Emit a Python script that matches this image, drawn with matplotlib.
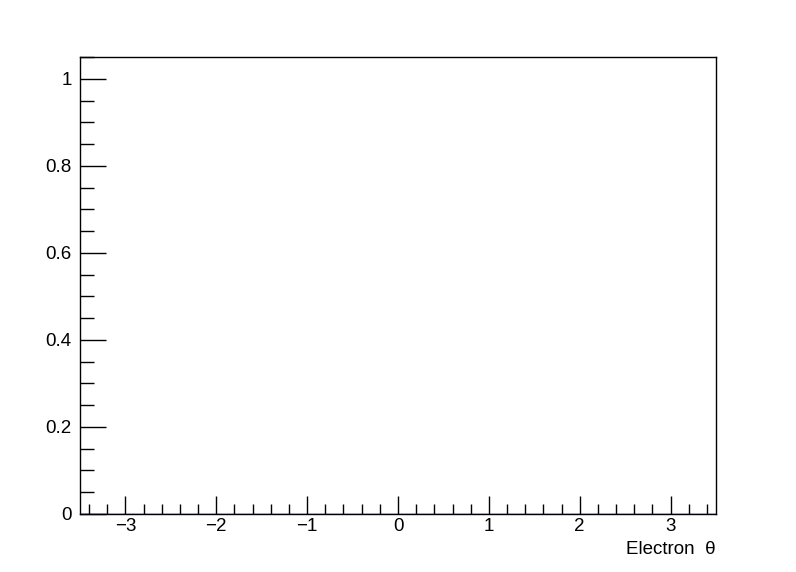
import numpy as np
import matplotlib.pyplot as plt
from matplotlib.ticker import MultipleLocator

plt.rcParams['font.family'] = ['Liberation Sans', 'DejaVu Sans']

# empty histogram: electron theta, no entries
bin_edges = np.linspace(-3.5, 3.5, 71)
counts = np.zeros(70)
x_range = (-3.5, 3.5)
y_range = (0, 1.05)
x_label = 'Electron  θ'

fig = plt.figure(figsize=(7.96, 5.72), dpi=100)
ax = fig.add_axes([80 / 796, 1 - 514 / 572, 636 / 796, 457 / 572])

ax.stairs(counts, bin_edges, color='#000088', linewidth=1)
ax.set_xlim(*x_range)
ax.set_ylim(*y_range)

ax.xaxis.set_major_locator(MultipleLocator(1))
ax.xaxis.set_minor_locator(MultipleLocator(0.2))
ax.yaxis.set_major_locator(MultipleLocator(0.2))
ax.yaxis.set_minor_locator(MultipleLocator(0.05))
ax.yaxis.set_major_formatter(plt.FuncFormatter(lambda v, p: f'{v:g}'))
ax.xaxis.set_major_formatter(plt.FuncFormatter(lambda v, p: f'{v:g}'.replace('-', '\u2212')))

ax.tick_params(axis='x', which='major', direction='in', length=13, width=1, labelsize=13.5, pad=3)
ax.tick_params(axis='x', which='minor', direction='in', length=7, width=1)
ax.tick_params(axis='y', which='major', direction='in', length=19, width=1, labelsize=13.5, pad=6)
ax.tick_params(axis='y', which='minor', direction='in', length=10, width=1)
for s in ax.spines.values():
    s.set_linewidth(1)

ax.text(1.0, -0.06, x_label, transform=ax.transAxes, ha='right', va='top', fontsize=13.5)

fig.savefig('out.png', dpi=100)
